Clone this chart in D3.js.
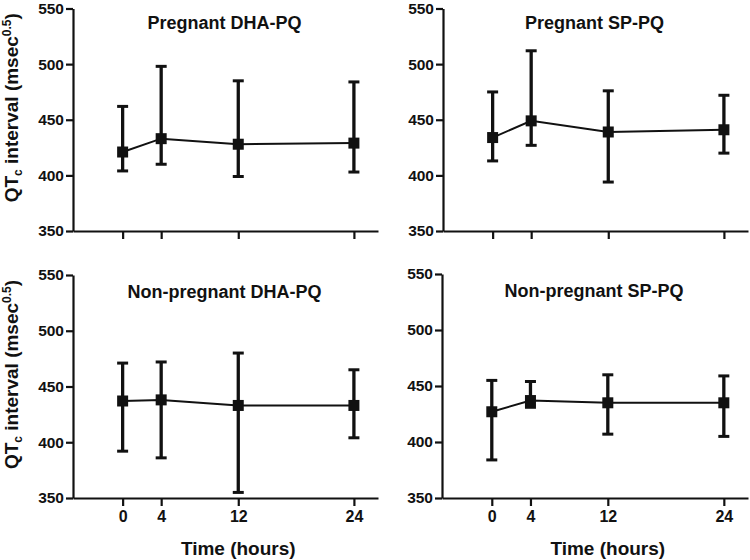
<!DOCTYPE html>
<html>
<head>
<meta charset="utf-8">
<script src="https://cdn.jsdelivr.net/npm/d3@7"></script>
<style>
  body { margin: 0; background: #fff; }
  svg text { font-family: "Liberation Sans", Arial, sans-serif; font-weight: bold; fill: #111; }
</style>
</head>
<body>
<svg id="Canvas" width="750" height="560"></svg>
<script>
// time points (hours)
var times = [0, 4, 12, 24];
var yTicks = [350, 400, 450, 500, 550];
var panelTitles = ["Pregnant DHA-PQ", "Pregnant SP-PQ", "Non-pregnant DHA-PQ", "Non-pregnant SP-PQ"];

// mean, lower and upper of QTc per time point
var pregDhaMean = [421, 433, 428, 429];
var pregDhaLow  = [404, 410, 399, 403];
var pregDhaHigh = [462, 498, 485, 484];

var pregSpMean = [434, 449, 439, 441];
var pregSpLow  = [413, 427, 394, 420];
var pregSpHigh = [475, 512, 476, 472];

var nonDhaMean = [437, 438, 433, 433];
var nonDhaLow  = [392, 386, 355, 404];
var nonDhaHigh = [471, 472, 480, 465];

var nonSpMean = [427, 437, 435, 435];
var nonSpLow  = [384, 431, 407, 405];
var nonSpHigh = [455, 454, 460, 459];

var svg = d3.select("#Canvas");

// panel frames: left/right of x axis, top/bottom of y axis
var panels = [
	{ title: panelTitles[0], mean: pregDhaMean, low: pregDhaLow, high: pregDhaHigh, x0: 73, x1: 378, y0: 8.5, y1: 231, ty: 28.5, labels: false },
	{ title: panelTitles[1], mean: pregSpMean, low: pregSpLow, high: pregSpHigh, x0: 443, x1: 748, y0: 8.5, y1: 231, ty: 28.5, labels: false },
	{ title: panelTitles[2], mean: nonDhaMean, low: nonDhaLow, high: nonDhaHigh, x0: 73, x1: 378, y0: 275, y1: 498, ty: 298, labels: true },
	{ title: panelTitles[3], mean: nonSpMean, low: nonSpLow, high: nonSpHigh, x0: 442, x1: 748, y0: 274, y1: 498, ty: 297, labels: true }
];

panels.forEach(DrawPanel);

/*
 * Draw one panel
 */
function DrawPanel(p){
	var x = d3.scaleLinear().domain([-5.15, 26.5]).range([p.x0, p.x1]);
	var y = d3.scaleLinear().domain([350, 550]).range([p.y1, p.y0]);
	var g = svg.append("g");

	var yAxis = g.append("g")
		.attr("transform", "translate(" + p.x0 + ",0)")
		.call(d3.axisLeft(y).tickValues(yTicks).tickSize(7).tickSizeOuter(0).tickPadding(2));
	var xAxis = g.append("g")
		.attr("transform", "translate(0," + p.y1 + ")")
		.call(d3.axisBottom(x).tickValues(times).tickSize(8).tickSizeOuter(0).tickPadding(5)
			.tickFormat(p.labels ? d3.format("d") : function(){ return ""; }));

	[yAxis, xAxis].forEach(function(a){
		a.select(".domain").attr("stroke", "#111").attr("stroke-width", 2.2);
		a.selectAll(".tick line").attr("stroke", "#111").attr("stroke-width", 2.2);
		a.selectAll(".tick text").attr("fill", "#111");
	});
	yAxis.selectAll(".tick text").style("font-size", "15.5px");
	xAxis.selectAll(".tick text").style("font-size", "16px");

	var data = times.map(function(t, i){
		return { t: t, m: p.mean[i], lo: p.low[i], hi: p.high[i] };
	});

	// connecting line
	g.append("path")
		.datum(data)
		.attr("fill", "none")
		.attr("stroke", "#111")
		.attr("stroke-width", 2)
		.attr("d", d3.line().x(function(d){ return x(d.t); }).y(function(d){ return y(d.m); }));

	// error bars
	var bars = g.selectAll(".err").data(data).enter().append("g").classed("err", true);
	bars.append("line")
		.attr("x1", function(d){ return x(d.t); }).attr("x2", function(d){ return x(d.t); })
		.attr("y1", function(d){ return y(d.lo); }).attr("y2", function(d){ return y(d.hi); })
		.attr("stroke", "#111").attr("stroke-width", 3.3);
	["lo", "hi"].forEach(function(k){
		bars.append("line")
			.attr("x1", function(d){ return x(d.t) - 5.5; }).attr("x2", function(d){ return x(d.t) + 5.5; })
			.attr("y1", function(d){ return y(d[k]); }).attr("y2", function(d){ return y(d[k]); })
			.attr("stroke", "#111").attr("stroke-width", 3);
	});

	// square markers
	g.selectAll(".mark").data(data).enter().append("rect").classed("mark", true)
		.attr("x", function(d){ return x(d.t) - 5.5; })
		.attr("y", function(d){ return y(d.m) - 5.5; })
		.attr("width", 11).attr("height", 11)
		.attr("fill", "#111");

	// title
	g.append("text")
		.attr("x", (p.x0 + p.x1) / 2 - 1)
		.attr("y", p.ty)
		.attr("text-anchor", "middle")
		.style("font-size", "18px")
		.text(p.title);

	if(p.labels){
		g.append("text")
			.attr("x", x(12))
			.attr("y", 555)
			.attr("text-anchor", "middle")
			.style("font-size", "19px")
			.text("Time (hours)");
	}

	// y axis label on the left column only
	if(p.x0 < 100){
		var lab = g.append("text")
			.attr("transform", "translate(17.5," + ((p.y0 + p.y1) / 2 - 12) + ") rotate(-90)")
			.attr("text-anchor", "middle")
			.style("font-size", "19px");
		lab.append("tspan").text("QT");
		lab.append("tspan").attr("dy", 4).style("font-size", "12px").text("c");
		lab.append("tspan").attr("dy", -4).text(" interval (msec");
		lab.append("tspan").attr("dy", -6.5).style("font-size", "12px").text("0.5");
		lab.append("tspan").attr("dy", 6.5).text(")");
	}
}
</script>
</body>
</html>
